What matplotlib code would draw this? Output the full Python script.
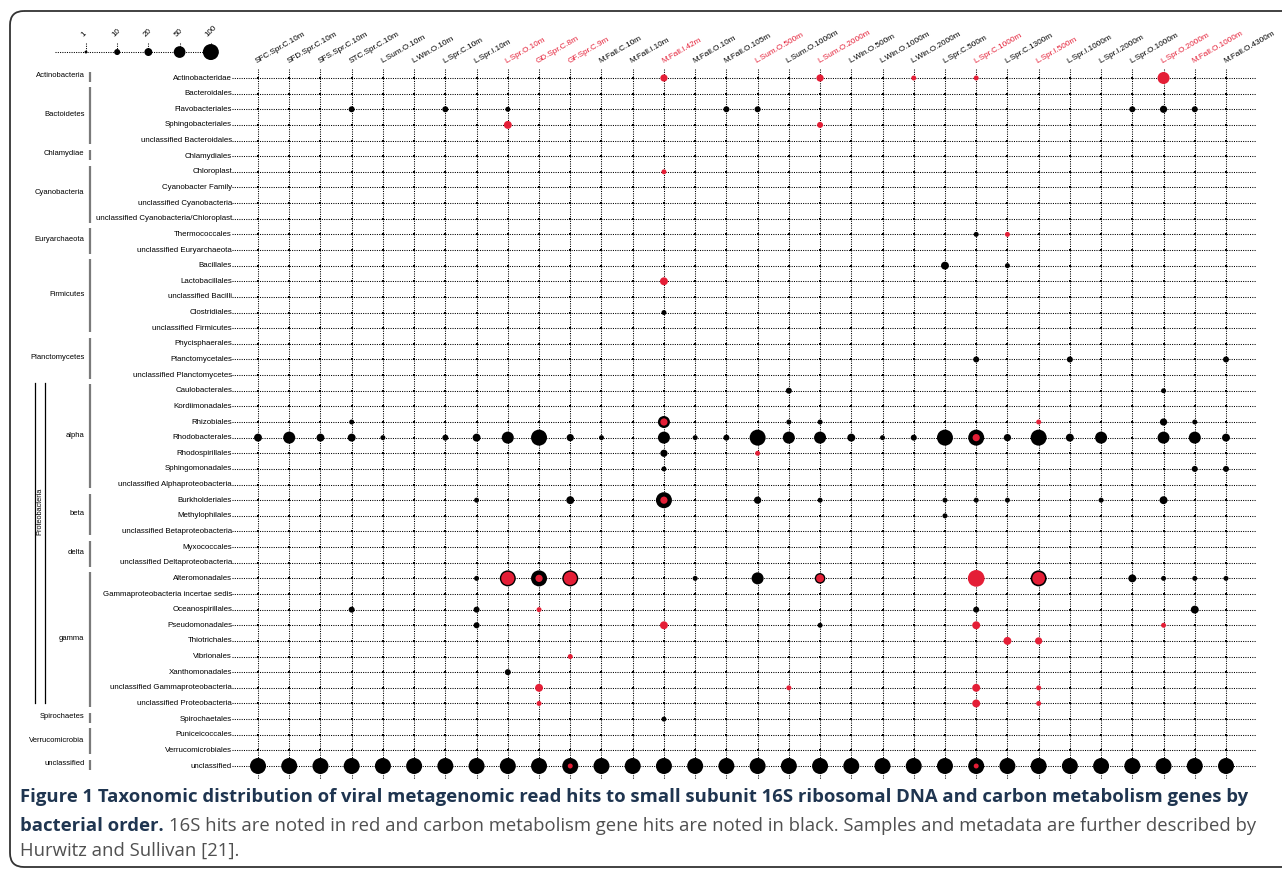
import matplotlib.pyplot as plt
from matplotlib.patches import FancyBboxPatch

samples = ["SFC.Spr.C.10m", "SFD.Spr.C.10m", "SFS.Spr.C.10m", "STC.Spr.C.10m",
           "L.Sum.O.10m", "L.Win.O.10m", "L.Spr.C.10m", "L.Spr.I.10m",
           "L.Spr.O.10m", "GD.Spr.C.8m", "GF.Spr.C.9m", "M.Fall.C.10m",
           "M.Fall.I.10m", "M.Fall.I.42m", "M.Fall.O.10m", "M.Fall.O.105m",
           "L.Sum.O.500m", "L.Sum.O.1000m", "L.Sum.O.2000m", "L.Win.O.500m",
           "L.Win.O.1000m", "L.Win.O.2000m", "L.Spr.C.500m", "L.Spr.C.1000m",
           "L.Spr.C.1300m", "L.Spr.I.500m", "L.Spr.I.1000m", "L.Spr.I.2000m",
           "L.Spr.O.1000m", "L.Spr.O.2000m", "M.Fall.O.1000m", "M.Fall.O.4300m"]
red_samples = ["L.Spr.O.10m", "GD.Spr.C.8m", "GF.Spr.C.9m", "M.Fall.I.42m",
               "L.Sum.O.500m", "L.Sum.O.2000m", "L.Spr.C.1000m", "L.Spr.I.500m",
               "L.Spr.O.2000m", "M.Fall.O.1000m"]

orders = ["Actinobacteridae", "Bacteroidales", "Flavobacteriales", "Sphingobacteriales",
          "unclassified Bacteroidales", "Chlamydiales", "Chloroplast", "Cyanobacter Family",
          "unclassified Cyanobacteria", "unclassified Cyanobacteria/Chloroplast",
          "Thermococcales", "unclassified Euryarchaeota", "Bacillales", "Lactobacillales",
          "unclassified Bacilli", "Clostridiales", "unclassified Firmicutes",
          "Phycisphaerales", "Planctomycetales", "unclassified Planctomycetes",
          "Caulobacterales", "Kordiimonadales", "Rhizobiales", "Rhodobacterales",
          "Rhodospirillales", "Sphingomonadales", "unclassified Alphaproteobacteria",
          "Burkholderiales", "Methylophilales", "unclassified Betaproteobacteria",
          "Myxococcales", "unclassified Deltaproteobacteria", "Alteromonadales",
          "Gammaproteobacteria incertae sedis", "Oceanospirillales", "Pseudomonadales",
          "Thiotrichales", "Vibrionales", "Xanthomonadales",
          "unclassified Gammaproteobacteria", "unclassified Proteobacteria",
          "Spirochaetales", "Puniceicoccales", "Verrucomicrobiales", "unclassified"]

groups = ["Actinobacteria", "Bactoidetes", "Chlamydiae", "Cyanobacteria", "Euryarchaeota",
          "Firmicutes", "Planctomycetes", "alpha", "beta", "delta", "gamma",
          "Spirochaetes", "Verrucomicrobia", "unclassified"]
group_sizes = [1, 4, 1, 4, 2, 5, 3, 7, 3, 2, 9, 1, 2, 1]
proteo_groups = ["alpha", "beta", "delta", "gamma"]

# carbon metabolism gene hits (black), {order: {sample index: hits}}
carbon_hits = {
    "Flavobacteriales": {3: 10, 6: 10, 8: 6, 15: 10, 16: 10, 28: 10, 29: 16, 30: 10},
    "Thermococcales": {23: 6},
    "Bacillales": {22: 20, 24: 6},
    "Clostridiales": {13: 6},
    "Planctomycetales": {23: 10, 26: 10, 31: 10},
    "Caulobacterales": {17: 10, 29: 6},
    "Rhizobiales": {3: 6, 13: 53, 17: 6, 18: 6, 29: 16, 30: 6},
    "Rhodobacterales": {0: 20, 1: 53, 2: 20, 3: 20, 4: 6, 6: 10, 7: 20, 8: 53, 9: 100,
                        10: 16, 11: 6, 13: 53, 14: 6, 15: 10, 16: 100, 17: 53, 18: 53,
                        19: 20, 20: 6, 21: 10, 22: 100, 23: 100, 24: 16, 25: 100,
                        26: 20, 27: 53, 29: 53, 30: 53, 31: 20},
    "Rhodospirillales": {13: 16},
    "Sphingomonadales": {13: 6, 30: 10, 31: 10},
    "Burkholderiales": {7: 6, 10: 20, 13: 100, 16: 16, 18: 6, 22: 6, 23: 6, 24: 6,
                        27: 6, 29: 20},
    "Methylophilales": {22: 6},
    "Alteromonadales": {7: 6, 8: 100, 9: 100, 10: 100, 14: 6, 16: 53, 18: 40, 25: 100,
                        28: 20, 29: 6, 30: 6, 31: 6},
    "Oceanospirillales": {3: 10, 7: 10, 23: 10, 30: 20},
    "Pseudomonadales": {7: 10, 18: 6},
    "Xanthomonadales": {8: 10},
    "Spirochaetales": {13: 6},
    "unclassified": {i: 100 for i in range(32)},
}

# 16S rDNA hits (red)
rrna_hits = {
    "Actinobacteridae": {13: 16, 18: 16, 21: 6, 23: 6, 29: 53},
    "Sphingobacteriales": {8: 20, 18: 10},
    "Chloroplast": {13: 6},
    "Thermococcales": {24: 6},
    "Lactobacillales": {13: 20},
    "Rhizobiales": {13: 16, 25: 6},
    "Rhodobacterales": {23: 16},
    "Rhodospirillales": {16: 6},
    "Burkholderiales": {13: 16},
    "Alteromonadales": {8: 65, 9: 16, 10: 65, 18: 20, 23: 110, 25: 60},
    "Oceanospirillales": {9: 6},
    "Pseudomonadales": {13: 20, 23: 20, 29: 6},
    "Thiotrichales": {24: 20, 25: 16},
    "Vibrionales": {10: 6},
    "unclassified Gammaproteobacteria": {9: 20, 17: 6, 23: 20, 25: 6},
    "unclassified Proteobacteria": {9: 6, 23: 20, 25: 6},
    "unclassified": {10: 6, 23: 6},
}

legend_values = [1, 10, 20, 50, 100]

RED = "#e41e36"
FONT = "Liberation Sans"


def dot_size(v):
    d_px = 1.38 + 1.46 * v ** 0.5
    return (d_px * 0.72) ** 2


fig = plt.figure(figsize=(12.82, 8.72), dpi=100)

# frame + caption in pixel coordinates
frame = fig.add_axes([0, 0, 1, 1])
frame.set_xlim(0, 1282)
frame.set_ylim(872, 0)
frame.axis("off")
frame.add_patch(FancyBboxPatch((10, 11), 1330, 856, boxstyle="round,pad=0,rounding_size=14",
                               fill=False, lw=1.3, ec="#333333", clip_on=False))

ax = fig.add_axes([0, 0, 1, 1])
ax.patch.set_alpha(0)
dx = (1226 - 258) / 31
dy = (766 - 78) / 44
ax.set_xlim(-258 / dx, 31 + (1282 - 1226) / dx)
ax.set_ylim(44 + (872 - 766) / dy, -78 / dy)
ax.axis("off")

ncol = len(samples)
nrow = len(orders)
dots = dict(ls=(0, (1, 1.2)), lw=0.75, color="black", zorder=1)

for r, name in enumerate(orders):
    ax.plot([-0.83, ncol - 0.05], [r, r], **dots)
    ax.text(-0.83, r, name, ha="right", va="center", fontsize=5.7, family=FONT)
for c, name in enumerate(samples):
    ax.plot([c, c], [-0.55, nrow - 0.15], **dots)
    ax.text(c, -0.85, name, rotation=30, rotation_mode="anchor", ha="left",
            va="bottom", fontsize=5.9, family=FONT,
            color=RED if name in red_samples else "black")

# grid crossings
gx = [c for r in range(nrow) for c in range(ncol)]
gy = [r for r in range(nrow) for c in range(ncol)]
ax.scatter(gx, gy, s=2.5, marker="s", color="black", lw=0, zorder=2)

# hits: black first, red on top
for hits, color, z in [(carbon_hits, "black", 3), (rrna_hits, RED, 4)]:
    xs, ys, ss = [], [], []
    for name, row in hits.items():
        for c, v in row.items():
            xs.append(c)
            ys.append(orders.index(name))
            ss.append(dot_size(v))
    ax.scatter(xs, ys, s=ss, color=color, lw=0, zorder=z)

# size legend
lx = [-5.51 + i for i in range(len(legend_values))]
ly = -1.66
ax.plot([-6.5, -1.28], [ly, ly], **dots)
for x, v in zip(lx, legend_values):
    ax.plot([x, x], [ly - 0.55, ly], **dots)
    ax.text(x - 0.05, ly - 0.85, str(v), rotation=45, rotation_mode="anchor",
            ha="left", va="bottom", fontsize=5.8, family=FONT)
ax.scatter(lx, [ly] * len(lx), s=[dot_size(v) for v in legend_values],
           color="black", lw=0, zorder=3)

# taxonomy brackets
start = 0
proteo_rows = []
for g, n in zip(groups, group_sizes):
    end = start + n - 1
    ax.plot([-5.38, -5.38], [start - 0.4, end + 0.25], color="#7a7a7a", lw=1.6,
            solid_capstyle="butt")
    ax.text(-5.56, (start + end) / 2 - 0.15, g, ha="right", va="center",
            fontsize=5.5, family=FONT)
    if g in proteo_groups:
        proteo_rows += [start, end]
    start += n
for x in [-7.14, -6.82]:
    ax.plot([x, x], [min(proteo_rows) - 0.5, max(proteo_rows)], color="black", lw=0.9)
ax.text(-6.98, (min(proteo_rows) + max(proteo_rows)) / 2 - 2.3, "Proteobacteria",
        rotation=90, ha="center", va="center", fontsize=5.3, family=FONT)

# caption
cap_font = "Open Sans"
cap_size = 13.3
navy = "#1f3550"
grey = "#505050"
frame.text(20, 797, "Figure 1 Taxonomic distribution of viral metagenomic read hits to "
           "small subunit 16S ribosomal DNA and carbon metabolism genes by",
           fontsize=cap_size, fontweight="bold", family=cap_font, color=navy, va="center")
t2 = frame.text(20, 826, "bacterial order.", fontsize=cap_size, fontweight="bold",
                family=cap_font, color=navy, va="center")
fig.canvas.draw()
bb = t2.get_window_extent()
frame.text(bb.x1 + 5, 826, "16S hits are noted in red and carbon metabolism gene hits are "
           "noted in black. Samples and metadata are further described by",
           fontsize=cap_size, family=cap_font, color=grey, va="center")
frame.text(20, 851, "Hurwitz and Sullivan [21].", fontsize=cap_size, family=cap_font,
           color=grey, va="center")

fig.savefig("out.png", dpi=100)
